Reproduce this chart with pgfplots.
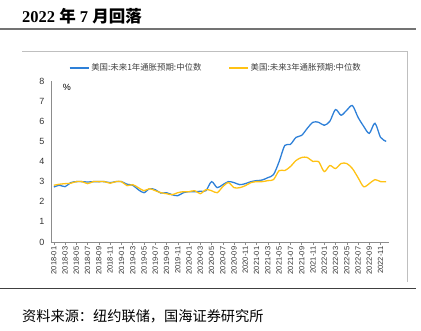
\documentclass[border=0pt]{standalone}
\usepackage{fontspec}
\setmainfont{Liberation Sans}
\newfontfamily\cjk{Noto Sans CJK SC}
\newfontfamily\serifb{Liberation Serif}
\usepackage{pgfplots}
\usepackage{pgfplotstable}
\pgfplotsset{compat=1.18}
\definecolor{cblue}{RGB}{46,128,216}
\definecolor{cyellow}{RGB}{255,194,20}
\pgfplotstableread{
m blue yellow
0 2.73 2.82
1 2.82 2.87
2 2.75 2.90
3 2.95 2.92
4 3.00 3.00
5 3.00 3.00
6 2.98 2.90
7 3.00 3.00
8 3.00 3.00
9 3.00 3.00
10 2.95 2.92
11 3.00 3.00
12 3.00 3.00
13 2.87 2.80
14 2.82 2.85
15 2.60 2.70
16 2.45 2.55
17 2.65 2.65
18 2.60 2.55
19 2.43 2.45
20 2.45 2.40
21 2.35 2.35
22 2.30 2.45
23 2.45 2.50
24 2.50 2.50
25 2.50 2.55
26 2.52 2.40
27 2.55 2.60
28 3.00 2.55
29 2.70 2.45
30 2.85 2.75
31 3.00 2.95
32 2.95 2.70
33 2.85 2.70
34 2.90 2.80
35 3.00 2.95
36 3.05 3.00
37 3.08 3.00
38 3.20 3.05
39 3.35 3.10
40 4.00 3.55
41 4.80 3.55
42 4.85 3.75
43 5.20 4.05
44 5.30 4.20
45 5.65 4.20
46 5.95 4.00
47 5.95 4.00
48 5.80 3.50
49 6.00 3.80
50 6.58 3.65
51 6.30 3.90
52 6.55 3.90
53 6.78 3.65
54 6.20 3.20
55 5.75 2.75
56 5.40 2.90
57 5.90 3.10
58 5.20 3.00
59 5.00 3.00
}\datatable
\begin{document}
\begin{tikzpicture}[x=1bp,y=1bp]
\useasboundingbox (0,0) rectangle (421,331);
% title
\node[anchor=base west, inner sep=0pt] at (22,308.5) {\fontsize{16.5bp}{18bp}\selectfont\serifb\bfseries 2022 {\cjk\bfseries 年} 7 {\cjk\bfseries 月回落}};
\draw[black!55, line width=1.5bp] (0,302) -- (416,302);
\draw[black!25, line width=0.8bp] (22,280) -- (407,280) -- (407,49);
\draw[black!75, line width=0.8bp] (0,43) -- (416,43);
\node[anchor=base west, inner sep=0pt] at (22,10) {\fontsize{14.2bp}{15bp}\selectfont\cjk 资料来源：纽约联储，国海证券研究所};
\node[anchor=center, inner sep=0pt] at (67,244) {\fontsize{9bp}{10bp}\selectfont \%};
\begin{axis}[
  at={(51bp,89bp)}, anchor=south west,
  scale only axis, width=338bp, height=161bp,
  xmin=-0.5, xmax=59.5, ymin=0, ymax=8,
  axis x line*=bottom, axis y line*=left,
  axis line style={black!45, line width=0.6bp, -},
  ytick={0,1,...,8},
  ytick style={draw=none},
  xtick={0,2,...,58},
  xticklabels={2018-01,2018-03,2018-05,2018-07,2018-09,2018-11,2019-01,2019-03,2019-05,2019-07,2019-09,2019-11,2020-01,2020-03,2020-05,2020-07,2020-09,2020-11,2021-01,2021-03,2021-05,2021-07,2021-09,2021-11,2022-01,2022-03,2022-05,2022-07,2022-09,2022-11},
  xtick style={black!45, line width=0.5bp},
  tick align=outside, major tick length=3bp,
  x tick label style={rotate=90, anchor=east, font=\fontsize{7.5bp}{8bp}\selectfont, text=black!80, inner sep=1.5bp},
  y tick label style={font=\fontsize{9bp}{10bp}\selectfont, text=black!80},
  /pgf/number format/assume math mode=true,
  legend columns=2,
  legend style={at={(0.488,1)}, anchor=center, yshift=13bp, draw=none, fill=none,
    font=\fontsize{8.4bp}{9bp}\selectfont\cjk, text=black!75,
    /tikz/every even column/.append style={column sep=25bp}, inner sep=0pt},
  legend image code/.code={\draw[#1, line width=1.3bp] (0bp,0bp) -- (19bp,0bp);},
  clip=false,
]
\addplot[cblue, line width=1.3bp, smooth, tension=0.5] table[x=m, y=blue] {\datatable};
\addlegendentry{美国:未来1年通胀预期:中位数}
\addplot[cyellow, line width=1.3bp, smooth, tension=0.5] table[x=m, y=yellow] {\datatable};
\addlegendentry{美国:未来3年通胀预期:中位数}
\end{axis}
\end{tikzpicture}
\end{document}
